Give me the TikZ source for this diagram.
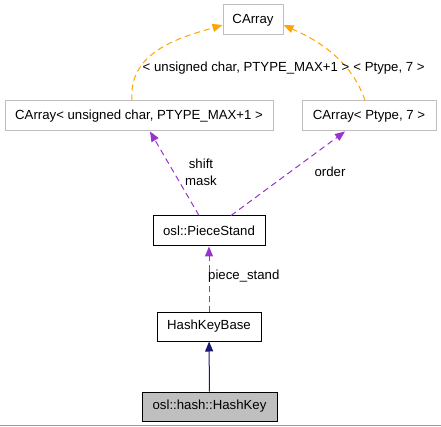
\documentclass[tikz,border=0pt]{standalone}
\usepackage{fontspec}
\setmainfont{Liberation Sans}
\usetikzlibrary{arrows.meta}
\definecolor{edgeorange}{HTML}{FFA500}
\definecolor{edgepurple}{HTML}{9A32CD}
\definecolor{edgenavy}{HTML}{191970}
\definecolor{boxgrey}{HTML}{BFBFBF}

\begin{document}
\begin{tikzpicture}[x=1pt,y=-1pt,
    cls/.style={draw=black,line width=1pt,fill=white,inner sep=0pt,
      minimum height=29pt,font=\fontsize{13.2}{15}\selectfont},
    tmpl/.style={cls,draw=boxgrey},
    lbl/.style={font=\fontsize{13.2}{15}\selectfont,inner sep=0pt,align=center},
    usage/.style={dash pattern=on 6pt off 4pt,line width=1pt,
      -{Triangle[length=10pt,width=8pt]}},
  ]
        \useasboundingbox (0,0) rectangle (441,427);

        % --- クラス ---
        \node[tmpl,minimum width=60pt,minimum height=30pt] (ca) at (253,20) {CArray};
        \node[tmpl,minimum width=268pt,minimum height=30pt] (uc) at (139,116)
          {CArray< unsigned char, PTYPE\_MAX+1 >};
        \node[tmpl,minimum width=134pt,minimum height=30pt] (cp) at (369,116)
          {CArray< Ptype, 7 >};
        \node[cls,minimum width=112pt,minimum height=30pt] (ps) at (209,231) {osl::PieceStand};
        \node[cls,minimum width=104pt] (hkb) at (209,326.5) {HashKeyBase};
        \node[cls,minimum width=135pt,fill=boxgrey] (hk) at (209.5,406.5) {osl::hash::HashKey};

        % --- テンプレート ---
        \draw[usage,edgeorange] ([xshift=-7pt]uc.north)
          .. controls +(-4,-50) and +(-40,12) .. ([yshift=-5pt]ca.west);
        \draw[usage,edgeorange] ([xshift=-4pt]cp.north)
          .. controls +(-15,-46) and +(22,10) .. ([yshift=-5pt]ca.east);

        % --- メンバ ---
        \draw[usage,edgepurple] ([xshift=-10pt]ps.north) -- ([xshift=11pt]uc.south);
        \draw[usage,edgepurple] ([xshift=22pt]ps.north) -- ([xshift=-24pt]cp.south);
        \draw[usage,edgepurple] (hkb) -- (ps);

        % 継承
        \draw[edgenavy,line width=1pt,-{Triangle[length=10pt,width=8pt]}] (hk) -- (hkb);

        % 下の線
        \draw[boxgrey!80!black,line width=1pt] (0,425.7) -- (441,425.7);

        % ラベル
        \node[lbl] (lu) at (246,68) {< unsigned char, PTYPE\_MAX+1 >};
        \node[lbl] (lp) at (389,68) {< Ptype, 7 >};
        \node[lbl] (lsm) at (201,172) {shift\\[2pt]mask};
        \node[lbl] (lo) at (330,172) {order};
        \node[lbl,anchor=west] (lps) at (208,276) {piece\_stand};
      \end{tikzpicture}
\end{document}
